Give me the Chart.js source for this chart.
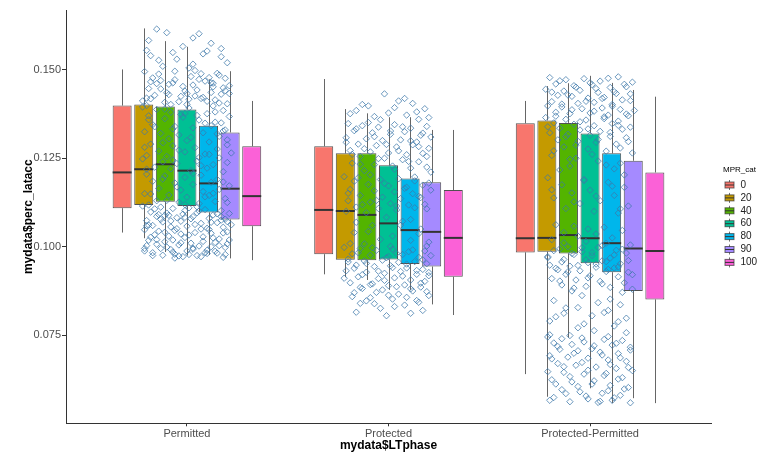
<!DOCTYPE html>
<html><head><meta charset="utf-8">
<script src="https://cdn.jsdelivr.net/npm/chart.js@4.4.1/dist/chart.umd.min.js"></script>
<style>html,body{margin:0;padding:0;background:#fff;}canvas{display:block;}</style>
</head><body>
<canvas id="c" width="776" height="458"></canvas>
<script>
const categories = ['Permitted', 'Protected', 'Protected-Permitted'];
const groups = ['0', '20', '40', '60', '80', '90', '100'];
const colors = ['#F8766D', '#C49A00', '#53B400', '#00C094', '#00B6EB', '#A58AFF', '#FB61D7'];
const yTicks = [0.075, 0.100, 0.125, 0.150];

// box statistics, [MPR group][LT phase]
const whiskerLow  = [[.1040,.0922,.0640],[.1024,.0914,.0576],[.0985,.0906,.0743],[.0975,.0878,.0600],[.0977,.0878,.0558],[.0967,.0837,.0572],[.0962,.0807,.0558]];
const q1          = [[.1109,.0979,.0984],[.1118,.0963,.0986],[.1127,.0962,.0981],[.1115,.0964,.0953],[.1097,.0951,.0928],[.1077,.0944,.0875],[.1058,.0915,.0851]];
const median      = [[.1210,.1104,.1024],[.1219,.1101,.1025],[.1233,.1090,.1033],[.1215,.1066,.1024],[.1179,.1047,.1010],[.1164,.1042,.0995],[.1143,.1025,.0988]];
const q3          = [[.1399,.1284,.1349],[.1402,.1264,.1357],[.1396,.1264,.1350],[.1388,.1230,.1320],[.1342,.1193,.1264],[.1323,.1182,.1243],[.1284,.1160,.1210]];
const whiskerHigh = [[.1501,.1474,.1412],[.1617,.1389,.1454],[.1581,.1377,.1462],[.1565,.1366,.1483],[.1473,.1366,.1463],[.1496,.1330,.1443],[.1412,.1330,.1424]];

// jittered observations: [horizontal jitter (hundredths of a category), value]
const jitterPermitted = [
[-15,.1615],[-10,.1605],[3,.1590],[-20,.1555],[12,.1575],[17,.1560],[-5,.1530],[8,.1545],[20,.1520],[-12,.1510],[1,.1505],[-18,.1540],
[-21,.1495],[-14,.1488],[-6,.1472],[2,.1481],[9,.1468],[15,.1490],[21,.1455],[-19,.1447],[-9,.1459],[5,.1443],[12,.1436],[18,.1449],[-16,.1428],[-3,.1425],[7,.1419],[-22,.1412],[-11,.1408],[0,.1402],[14,.1415],[20,.1404],[-7,.1463],[4,.1498],[11,.1478],[-13,.1470],[17,.1431],[-1,.1440],[-18,.1466],[8,.1422],[-4,.1410],[19,.1476],[-20,.1420],[13,.1452],[-10,.1435],[3,.1457],[16,.1406],
[-22,.1395],[-15,.1388],[-8,.1380],[1,.1392],[10,.1376],[18,.1385],[-19,.1370],[-11,.1362],[-2,.1366],[6,.1358],[14,.1352],[21,.1368],[-17,.1345],[-6,.1340],[3,.1336],[12,.1342],[19,.1330],[-21,.1325],[-13,.1320],[-4,.1316],[8,.1322],[16,.1312],[-9,.1305],[0,.1300],[11,.1296],[20,.1302],[-18,.1290],[-7,.1285],[4,.1280],[15,.1276],[-14,.1270],[-1,.1268],[9,.1262],[22,.1265],[-20,.1258],[-10,.1255],[6,.1252],[17,.1350],[-3,.1374],[13,.1398],
[-22,.1248],[-12,.1240],[-5,.1235],[5,.1242],[13,.1232],[20,.1238],[-16,.1225],[-8,.1220],[2,.1215],[10,.1222],[18,.1212],[-20,.1205],[-11,.1200],[-1,.1196],[7,.1202],[15,.1190],[-17,.1185],[-6,.1180],[3,.1176],[12,.1182],[21,.1172],[-14,.1165],[-3,.1160],[8,.1156],[16,.1162],[-21,.1150],[-9,.1146],[0,.1140],[11,.1145],[19,.1136],[-15,.1130],[-4,.1126],[6,.1122],[14,.1128],[-19,.1118],
[-22,.1115],[-13,.1112],[-7,.1108],[1,.1110],[9,.1105],[17,.1102],[-18,.1098],[-10,.1095],[-2,.1092],[5,.1096],[13,.1090],[21,.1094],[-15,.1086],[-5,.1082],[3,.1085],[11,.1080],[19,.1078],[-20,.1074],[-12,.1070],[-3,.1072],[7,.1066],[15,.1068],[22,.1062],[-17,.1060],[-8,.1056],[0,.1058],[10,.1052],[18,.1055],[-21,.1048],[-14,.1044],[-6,.1046],[4,.1040],[12,.1038],[20,.1042],[-16,.1034],[-9,.1030],[-1,.1026],[8,.1028],[16,.1022],[-19,.1018],[-11,.1014],[2,.1010],[14,.1012],[-4,.1005],[6,.1002],[19,.0998],[-13,.0995],[10,.0990],[-7,.0985],[1,.0978],[-17,.0975],[15,.0982],[-2,.0972],
[-20,.1003],[-8,.0992],[3,.0996],[12,.1000],[20,.1008],[-15,.1020],[-3,.1036],[7,.1050],[17,.1075],[-11,.1088],[-1,.1102],[9,.0983],[-21,.0988],[5,.0975],[18,.0970],[-6,.0968],
[7,.1489],[-17,.1477],[13,.1462],[-2,.1453],[19,.1441],[-9,.1430],[4,.1426],[-20,.1399],[10,.1411],[-13,.1446],[16,.1485],[-6,.1496],[1,.1417],[21,.1433],[-15,.1461],[6,.1473],[-11,.1389],[14,.1381],[-1,.1377],[-19,.1359],[9,.1349],[-7,.1333],[18,.1327],[2,.1309],[-12,.1294],[20,.1288],[-4,.1273],[11,.1261],[-16,.1339],[5,.1371],[-21,.1281],[15,.1319],[-8,.1402],[0,.1433],[12,.1463],[-18,.1418],[3,.1516],[-14,.1527],[17,.1537],[-7,.1549],[10,.1553],[-2,.1566],[6,.1602],[-19,.1583],
[-16,.1107],[6,.1101],[-9,.1089],[15,.1093],[-1,.1083],[20,.1071],[-13,.1077],[4,.1063],[-20,.1059],[11,.1049],[-5,.1051],[18,.1039],[-11,.1041],[1,.1033],[-18,.1027],[13,.1025],[-7,.1019],[8,.1015],[21,.1019],[-3,.1011],[-15,.1007],[16,.1003],[-10,.0999],[3,.0993],[-21,.0995],[10,.0981],[-6,.0979],[14,.0987],[-17,.0983],[0,.0988],[19,.0978],[-12,.0976],[7,.0972],[-4,.0974],[-19,.1061],[12,.1069],[-8,.1073],[2,.1079],[17,.1085],[-14,.1091],[5,.1113],[-1,.1119],[20,.1125],[-10,.1131],[9,.1141],[-18,.1149],[13,.1151],[-5,.1169],[18,.1183],[-12,.1191],[3,.1207],[-20,.1219],[7,.1229],[-7,.1245],[16,.1251]
];
const jitterProtected = [
[-2,.1432],[5,.1412],[-10,.1398],[12,.1405],[-16,.1385],[18,.1390],[0,.1378],[-7,.1368],[9,.1372],[15,.1360],
[-20,.1348],[-13,.1342],[-5,.1338],[3,.1345],[11,.1335],[19,.1340],[-17,.1328],[-8,.1322],[1,.1318],[8,.1325],[16,.1315],[-21,.1308],[-11,.1305],[-3,.1300],[6,.1302],[14,.1296],[21,.1310],[-15,.1290],[-6,.1286],[4,.1282],[12,.1288],[20,.1278],[-19,.1272],[-9,.1268],[0,.1265],[9,.1260],[17,.1264],[-14,.1255],[-2,.1250],[7,.1246],[15,.1240],[-18,.1236],[-7,.1232],[2,.1228],[11,.1222],[19,.1225],[-12,.1215],
[-22,.1198],[-15,.1195],[-4,.1190],[5,.1192],[13,.1186],[20,.1180],[-10,.1176],[0,.1172],[9,.1168],[17,.1174],[-19,.1162],[-7,.1158],[3,.1155],[12,.1150],[21,.1160],[-14,.1145],[-3,.1140],[6,.1136],[15,.1142],[-20,.1130],[-9,.1126],[1,.1122],[10,.1118],[18,.1120],[-16,.1112],[-5,.1108],[4,.1104],[13,.1110],[-21,.1100],[-11,.1096],
[-8,.1060],[7,.1072],[16,.1050],[-17,.1040],[2,.1030],[11,.1018],[-12,.1008],[19,.1002],
[-22,.0998],[-14,.0995],[-6,.0990],[2,.0993],[10,.0986],[18,.0988],[-18,.0980],[-9,.0976],[0,.0972],[7,.0978],[15,.0970],[21,.0975],[-20,.0965],[-12,.0960],[-3,.0962],[5,.0956],[13,.0958],[19,.0952],[-16,.0948],[-7,.0944],[1,.0946],[9,.0940],[17,.0936],[-21,.0932],[-11,.0928],[-2,.0925],[6,.0930],[14,.0922],[20,.0918],[-15,.0915],[-5,.0910],[3,.0912],[11,.0906],[18,.0902],[-19,.0898],[-8,.0895],[0,.0890],[8,.0892],[16,.0886],[-13,.0882],[-3,.0878],[12,.0875],[-17,.0870],[5,.0866],[20,.0862],
[-9,.0856],[2,.0852],[14,.0848],[-14,.0840],[8,.0835],[-4,.0826],[17,.0820],[-1,.0805],
[8,.1419],[-13,.1402],[3,.1393],[-19,.1376],[14,.1381],[-4,.1359],[20,.1365],[-10,.1351],[7,.1339],[-16,.1333],[1,.1327],[17,.1321],[-7,.1311],[11,.1299],[-21,.1295],[-1,.1289],[15,.1283],[-12,.1277],[5,.1271],[-18,.1261],[19,.1255],[-5,.1249],[10,.1241],[-14,.1233],[3,.1219],[21,.1211],[-9,.1203],[13,.1197],[-17,.1185],[-2,.1179],[8,.1165],[-20,.1151],[16,.1139],[-6,.1131],[4,.1115],[-13,.1119],[19,.1107],[-1,.1083],[11,.1077],[-16,.1069],[6,.1061],[-10,.1043],[15,.1037],[-4,.1021],[20,.1013],[-19,.1009],[1,.1001],
[-8,.0997],[12,.0991],[-15,.0983],[4,.0981],[-1,.0969],[17,.0963],[-20,.0957],[9,.0951],[-11,.0953],[2,.0941],[-17,.0939],[14,.0933],[-5,.0931],[20,.0927],[-13,.0921],[7,.0917],[-22,.0911],[-2,.0905],[16,.0897],[-9,.0893],[4,.0887],[-14,.0885],[11,.0881],[19,.0873],[-6,.0871],[0,.0863],[-18,.0859],[9,.0857],[-11,.0847],[15,.0843],[3,.0831],[-7,.0839],[-16,.0815],[11,.0812]
];
const jitterProtPerm = [
[-20,.1478],[-12,.1472],[-3,.1475],[5,.1468],[14,.1480],[21,.1465],[-17,.1460],[-8,.1455],[1,.1458],[10,.1450],[18,.1452],[-22,.1445],[-13,.1440],[-5,.1442],[4,.1436],[12,.1438],[20,.1432],[-16,.1428],[-9,.1425],[-1,.1420],[7,.1422],[16,.1415],[-19,.1410],[-6,.1405],[2,.1408],[11,.1402],
[-21,.1398],[-14,.1395],[-4,.1390],[6,.1392],[15,.1388],[22,.1385],[-17,.1380],[-10,.1376],[0,.1378],[9,.1372],[19,.1370],[-22,.1365],[-12,.1360],[-2,.1358],[7,.1362],[14,.1355],[-18,.1350],[-8,.1346],[2,.1342],[11,.1348],[20,.1338],[-15,.1335],[-5,.1330],[5,.1326],[16,.1332],[-20,.1322],[-11,.1318],[0,.1315],[10,.1312],[18,.1308],[-16,.1302],[-6,.1298],[3,.1295],[13,.1290],[-13,.1282],[-1,.1276],[8,.1270],[21,.1265],[-19,.1258],[-7,.1250],[4,.1242],[15,.1236],[-10,.1228],[12,.1220],
[-21,.1195],[-3,.1190],[9,.1182],[-14,.1175],[17,.1168],[0,.1160],[-9,.1152],[12,.1145],[-18,.1138],[5,.1130],[-5,.1122],[19,.1115],[-12,.1108],[2,.1100],[14,.1095],[-17,.1062],[-8,.1058],[7,.1055],[-1,.1050],[16,.1046],[-13,.1040],[3,.1036],[-6,.1030],[11,.1025],[-19,.1020],[-2,.1015],[8,.1010],[20,.1005],[-11,.1000],[4,.0998],[-15,.0994],[13,.0990],[-4,.0986],[18,.0982],[-8,.0978],[1,.0975],[-21,.0972],[10,.0968],[-13,.0964],[6,.0960],[-1,.0955],[15,.0952],
[-20,.0948],[-10,.0945],[3,.0942],[12,.0940],[-16,.0935],[-5,.0932],[8,.0930],[19,.0928],[-12,.0922],[0,.0918],[14,.0915],[-19,.0910],[-7,.0906],[5,.0902],[17,.0898],[-14,.0892],[-2,.0888],[10,.0885],[21,.0880],[-9,.0875],
[-18,.0848],[4,.0842],[15,.0836],[-6,.0828],[9,.0820],[-13,.0812],[1,.0805],[18,.0798],[-20,.0790],[-3,.0782],[12,.0776],
[-21,.0745],[-14,.0740],[-4,.0742],[7,.0738],[16,.0735],[-18,.0728],[-9,.0724],[2,.0720],[11,.0722],[20,.0716],[-15,.0710],[-6,.0706],[5,.0702],[14,.0698],[-20,.0692],[-11,.0688],[-1,.0685],[9,.0680],[18,.0676],[-16,.0670],[-7,.0665],[3,.0660],[13,.0656],[21,.0650],[-13,.0645],[-3,.0640],[7,.0636],[16,.0630],[-19,.0624],[-9,.0618],[1,.0612],[10,.0608],[19,.0602],[-14,.0596],[-5,.0590],[6,.0586],[15,.0580],[-18,.0574],[-1,.0570],[11,.0566],[-10,.0562],[4,.0560],
[9,.1476],[-15,.1469],[0,.1463],[17,.1459],[-7,.1451],[3,.1447],[-19,.1437],[13,.1433],[-11,.1429],[6,.1419],[20,.1413],[-2,.1411],[-14,.1403],[11,.1397],[-9,.1387],[2,.1383],[18,.1375],[-17,.1369],[7,.1367],[-5,.1353],[14,.1343],[-21,.1339],[-1,.1333],[10,.1323],[-12,.1311],[4,.1303],[19,.1297],[-7,.1287],[15,.1279],[-18,.1271],[1,.1261],[-10,.1247],[8,.1231],[-15,.1217],[17,.1203],[-3,.1187],[11,.1171],[-19,.1161],[3,.1143],[-8,.1127],[15,.1107],
[-13,.1011],[6,.1003],[-4,.0997],[16,.0993],[-18,.0989],[1,.0983],[-9,.0981],[12,.0977],[-21,.0969],[-2,.0963],[8,.0958],[19,.0961],[-14,.0957],[3,.0951],[-6,.0947],[14,.0943],[-17,.0939],[9,.0936],[-11,.0929],[21,.0921],[-1,.0912],[-15,.0903],[6,.0895],[-8,.0883],[16,.0871],[-4,.0862],[10,.0852],
[-12,.0827],[7,.0814],[-17,.0802],[14,.0788],[-6,.0771],[2,.0763],[18,.0757],[-20,.0751],[-10,.0749],[9,.0746],[-3,.0731],[13,.0727],[-16,.0718],[1,.0712],[20,.0708],[-8,.0699],[6,.0694],[-19,.0683],[15,.0686],[-4,.0673],[10,.0667],[-13,.0661],[19,.0659],[-1,.0651],[-21,.0647],[8,.0642],[-10,.0633],[14,.0626],[2,.0621],[-17,.0612],[-6,.0605],[17,.0598],[9,.0593],[-12,.0585],[-2,.0578],[12,.0573],[-20,.0566],[5,.0563],[20,.0559]
];

Chart.defaults.font.family = "'Liberation Sans', Arial, sans-serif";

const barSets = groups.map((g, gi) => ({
  type: 'bar', label: g, order: 1,
  data: categories.map((c, ci) => ({ x: ci + 1, y: [q1[gi][ci], q3[gi][ci]] })),
  backgroundColor: colors[gi], borderColor: 'rgba(51,51,51,0.85)', borderWidth: 1, borderSkipped: false,
  categoryPercentage: 0.75, barPercentage: 0.88
}));
const pts = [];
[jitterPermitted, jitterProtected, jitterProtPerm].forEach((arr, ci) =>
  arr.forEach(([dx, v]) => pts.push({ x: ci + 1 + dx / 100, y: v })));
const scatterSet = {
  type: 'scatter', label: 'obs', order: 0, data: pts,
  pointStyle: 'rectRot', pointRadius: 3.2, pointBorderWidth: 0.9,
  pointBorderColor: 'rgba(60,120,170,0.85)', pointBackgroundColor: 'rgba(0,0,0,0)'
};

const boxParts = {
  id: 'boxParts',
  afterDatasetDraw(chart, args) {
    const meta = args.meta;
    if (meta.type !== 'bar') return;
    const gi = groups.indexOf(chart.data.datasets[meta.index].label);
    if (gi < 0) return;
    const ys = chart.scales.y, ctx = chart.ctx;
    ctx.save();
    meta.data.forEach((el, ci) => {
      const x = Math.round(el.x) + 0.5, w = el.width;
      ctx.strokeStyle = 'rgba(51,51,51,0.75)'; ctx.lineWidth = 1;
      ctx.beginPath();
      ctx.moveTo(x, ys.getPixelForValue(q3[gi][ci])); ctx.lineTo(x, ys.getPixelForValue(whiskerHigh[gi][ci]));
      ctx.moveTo(x, ys.getPixelForValue(q1[gi][ci])); ctx.lineTo(x, ys.getPixelForValue(whiskerLow[gi][ci]));
      ctx.stroke();
      const my = ys.getPixelForValue(median[gi][ci]);
      ctx.strokeStyle = '#333'; ctx.lineWidth = 2;
      ctx.beginPath(); ctx.moveTo(el.x - w / 2, my); ctx.lineTo(el.x + w / 2, my); ctx.stroke();
    });
    ctx.restore();
  },
  afterDraw(chart) {
    const ctx = chart.ctx;
    ctx.save();
    ctx.textBaseline = 'middle'; ctx.textAlign = 'left';
    ctx.fillStyle = '#000'; ctx.font = "8px 'Liberation Sans', Arial, sans-serif";
    ctx.fillText('MPR_cat', 723, 170);
    ctx.font = "10px 'Liberation Sans', Arial, sans-serif";
    groups.forEach((g, i) => {
      const cy = 185 + i * 12.9, kx = 729.5;
      ctx.strokeStyle = 'rgba(51,51,51,0.7)'; ctx.lineWidth = 1;
      ctx.beginPath(); ctx.moveTo(kx, cy - 5); ctx.lineTo(kx, cy + 5); ctx.stroke();
      ctx.fillStyle = colors[i]; ctx.fillRect(725, cy - 3, 9, 6);
      ctx.strokeRect(725, cy - 3, 9, 6);
      ctx.strokeStyle = '#333'; ctx.beginPath(); ctx.moveTo(725, cy); ctx.lineTo(734, cy); ctx.stroke();
      ctx.fillStyle = '#222'; ctx.fillText(g, 740.5, cy);
    });
    ctx.restore();
  }
};

new Chart(document.getElementById('c'), {
  type: 'bar',
  data: { datasets: [scatterSet, ...barSets] },
  plugins: [boxParts],
  options: {
    responsive: false, animation: false, events: [],
    layout: { padding: { left: 0, top: 10, right: 65, bottom: 0 } },
    plugins: { legend: { display: false }, tooltip: { enabled: false } },
    scales: {
      x: {
        type: 'linear', min: 0.4, max: 3.6, offset: false,
        afterBuildTicks: s => { s.ticks = categories.map((c, i) => ({ value: i + 1 })); },
        afterFit: s => { s.height = 34.7; },
        ticks: { callback: v => categories[Math.round(v) - 1], color: '#4D4D4D', font: { size: 11 }, padding: 1, maxRotation: 0, autoSkip: false },
        grid: { display: true, offset: false, drawOnChartArea: false, drawTicks: true, tickLength: 3, tickColor: '#333' },
        border: { display: true, color: '#333', width: 1 },
        title: { display: true, text: 'mydata$LTphase', color: '#000', font: { size: 12, weight: 'bold', lineHeight: 1.2 }, padding: { top: 0, bottom: 4.8 } }
      },
      y: {
        type: 'linear', min: 0.0501, max: 0.1669,
        afterBuildTicks: s => { s.ticks = yTicks.map(v => ({ value: v })); },
        afterFit: s => { s.width = 66; },
        ticks: { callback: v => v.toFixed(3), color: '#4D4D4D', font: { size: 11 }, padding: 1 },
        grid: { display: true, drawOnChartArea: false, drawTicks: true, tickLength: 4, tickColor: '#333' },
        border: { display: true, color: '#333', width: 1 },
        title: { display: true, text: 'mydata$perc_latacc', color: '#000', font: { size: 12, weight: 'bold', lineHeight: 1.2 }, padding: { top: 21.8, bottom: 0 } }
      }
    }
  }
});
</script>
</body></html>
